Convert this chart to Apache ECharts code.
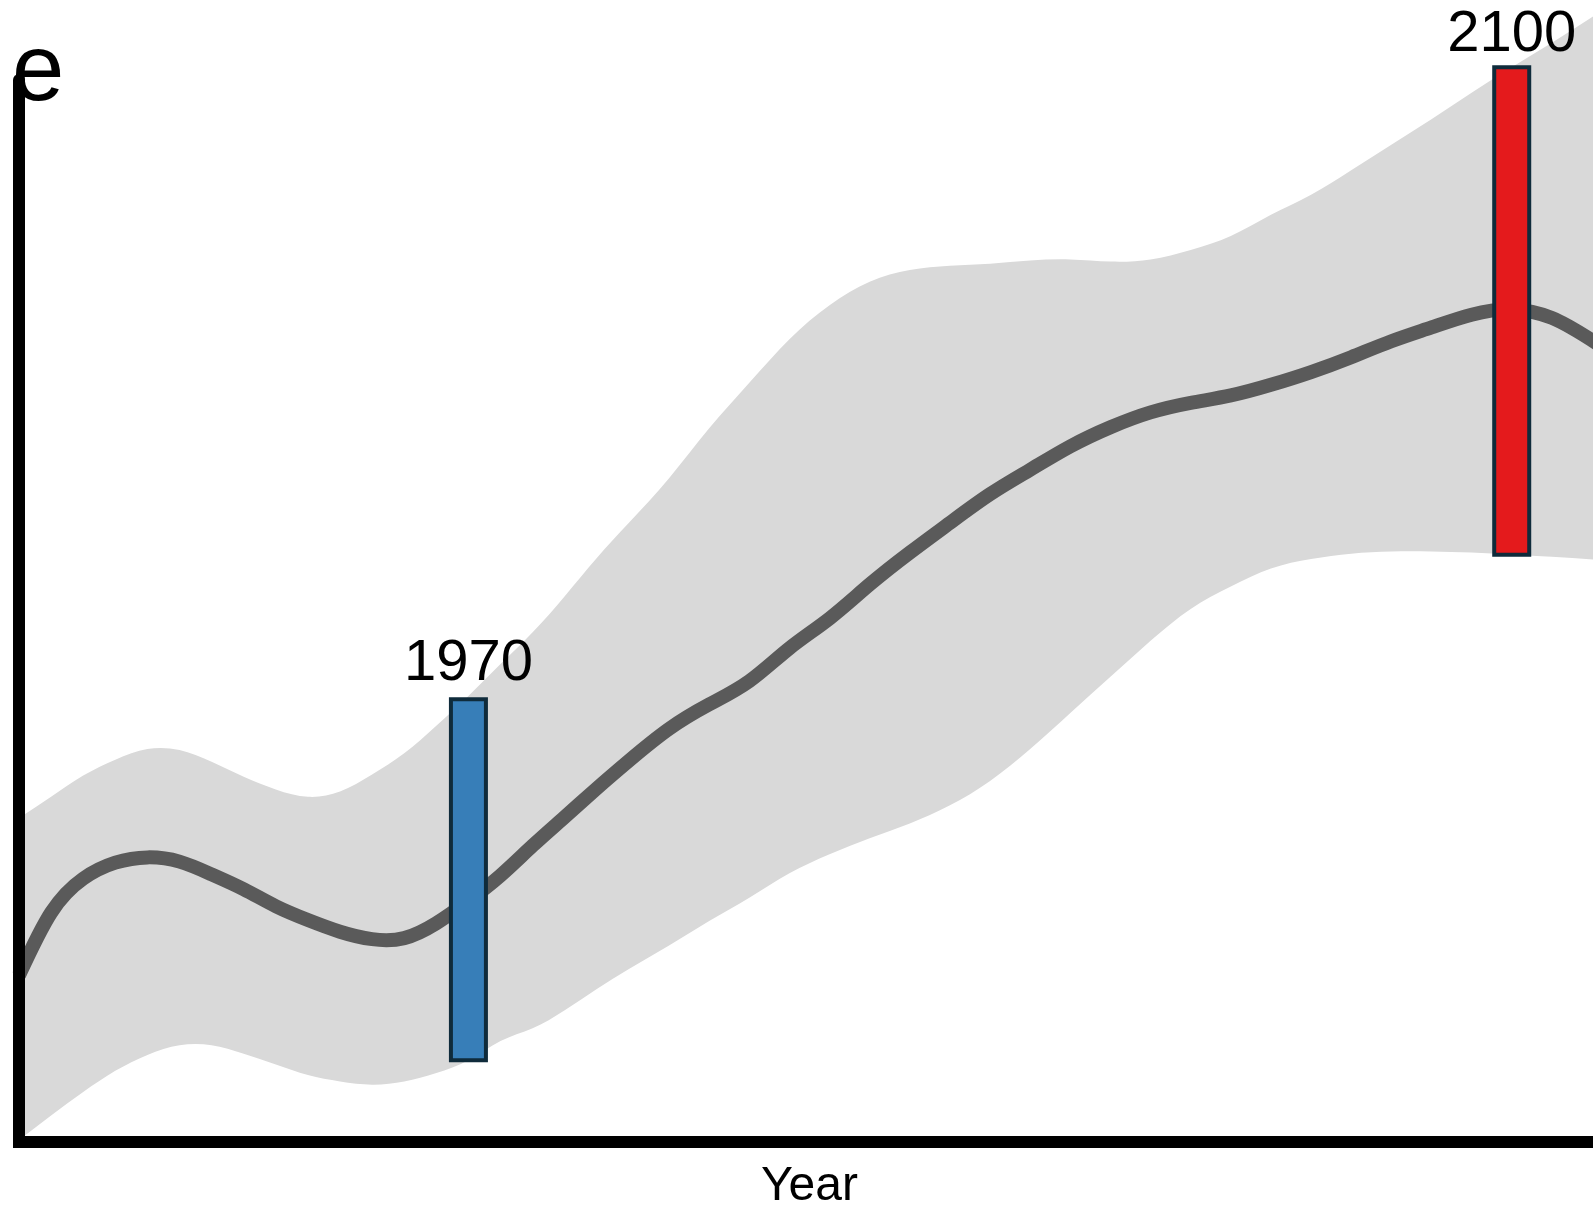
<!DOCTYPE html>
<html>
<head>
<meta charset="utf-8">
<title>Year</title>
<script src="https://cdn.jsdelivr.net/npm/echarts@6/dist/echarts.min.js"></script>
<style>
  html, body { margin: 0; padding: 0; background: #ffffff; }
  #chart { width: 1593px; height: 1205px; }
</style>
</head>
<body>
<div id="chart"></div>
<script>
// Sampled years for the projection envelope and its central estimate
const years = [1914, 1918, 1922, 1926, 1930, 1934, 1938, 1942, 1946, 1950,
               1954, 1958, 1962, 1966, 1970, 1974, 1978, 1982, 1986, 1990,
               1995, 2000, 2005, 2010, 2015, 2020, 2025, 2030, 2035, 2040,
               2045, 2050, 2055, 2060, 2065, 2070, 2075, 2080, 2085, 2090,
               2095, 2100, 2105, 2111];

// Upper edge of the envelope
const upper = [3.05, 3.25, 3.45, 3.60, 3.70, 3.69, 3.58, 3.44, 3.32, 3.25,
               3.30, 3.46, 3.66, 3.92, 4.20, 4.50, 4.80, 5.14, 5.50, 5.83,
               6.25, 6.72, 7.15, 7.56, 7.88, 8.10, 8.21, 8.25, 8.27, 8.30,
               8.31, 8.29, 8.31, 8.40, 8.53, 8.73, 8.92, 9.15, 9.39, 9.63,
               9.88, 10.12, 10.35, 10.64];

// Lower edge of the envelope
const lower = [0.02, 0.25, 0.47, 0.67, 0.82, 0.91, 0.91, 0.83, 0.73, 0.63,
               0.57, 0.54, 0.57, 0.65, 0.77, 0.95, 1.07, 1.24, 1.44, 1.63,
               1.85, 2.08, 2.30, 2.53, 2.71, 2.86, 3.00, 3.17, 3.40, 3.70,
               4.04, 4.38, 4.72, 5.02, 5.23, 5.40, 5.49, 5.54, 5.56, 5.56,
               5.55, 5.53, 5.51, 5.48];

// Central estimate
const mean = [1.57, 2.16, 2.48, 2.63, 2.68, 2.64, 2.52, 2.38, 2.22, 2.09,
              1.98, 1.91, 1.92, 2.06, 2.27, 2.51, 2.79, 3.06, 3.33, 3.59,
              3.89, 4.12, 4.34, 4.65, 4.93, 5.25, 5.55, 5.83, 6.10, 6.33,
              6.55, 6.73, 6.87, 6.96, 7.03, 7.13, 7.25, 7.39, 7.54, 7.67,
              7.79, 7.84, 7.76, 7.50];

// Highlighted years: range bars spanning the envelope
const markYears = [1970, 2100];
const markLow = [0.77, 5.53];
const markHigh = [4.17, 10.12];

const FONT = '"Liberation Sans", Arial, sans-serif';
const markFill = ['#377eb8', '#e41a1c'];
const labelGap = [4, 1];

// Natural cubic spline through pixel points (x increasing), returned as
// one cubic Bezier segment per interval: [[c1x, c1y, c2x, c2y, x, y], ...]
function splineSegments(pts) {
  const n = pts.length;
  const h = [], M = new Array(n).fill(0);
  for (let i = 0; i < n - 1; i++) h.push(pts[i + 1][0] - pts[i][0]);
  if (n > 2) {
    const a = [], b = [], c = [], d = [];
    for (let i = 1; i < n - 1; i++) {
      a.push(h[i - 1]);
      b.push(2 * (h[i - 1] + h[i]));
      c.push(h[i]);
      d.push(6 * ((pts[i + 1][1] - pts[i][1]) / h[i] - (pts[i][1] - pts[i - 1][1]) / h[i - 1]));
    }
    const m = b.length;
    for (let i = 1; i < m; i++) {
      const w = a[i] / b[i - 1];
      b[i] -= w * c[i - 1];
      d[i] -= w * d[i - 1];
    }
    const sol = new Array(m);
    sol[m - 1] = d[m - 1] / b[m - 1];
    for (let i = m - 2; i >= 0; i--) sol[i] = (d[i] - c[i] * sol[i + 1]) / b[i];
    for (let i = 0; i < m; i++) M[i + 1] = sol[i];
  }
  const segs = [];
  for (let i = 0; i < n - 1; i++) {
    const hi = h[i];
    const slope = (pts[i + 1][1] - pts[i][1]) / hi;
    const s0 = slope - hi * (2 * M[i] + M[i + 1]) / 6;
    const s1 = slope + hi * (M[i] + 2 * M[i + 1]) / 6;
    segs.push([pts[i][0] + hi / 3, pts[i][1] + s0 * hi / 3,
               pts[i + 1][0] - hi / 3, pts[i + 1][1] - s1 * hi / 3,
               pts[i + 1][0], pts[i + 1][1]]);
  }
  return segs;
}

function forwardPath(pts, segs) {
  let d = 'M' + pts[0][0] + ',' + pts[0][1];
  segs.forEach(s => { d += 'C' + s.join(','); });
  return d;
}

function backwardPath(pts, segs) {
  let d = '';
  for (let i = segs.length - 1; i >= 0; i--) {
    const s = segs[i];
    d += 'C' + [s[2], s[3], s[0], s[1], pts[i][0], pts[i][1]].join(',');
  }
  return d;
}

const chart = echarts.init(document.getElementById('chart'), null, { renderer: 'canvas' });

const bandData = years.map((y, i) => [y, lower[i], upper[i]]);
const meanData = years.map((y, i) => [y, mean[i]]);
const marks = markYears.map((y, i) => [y, markLow[i], markHigh[i]]);

chart.setOption({
  animation: false,
  backgroundColor: '#ffffff',
  grid: {
    left: 19, right: -7, top: 80, bottom: 63,
    containLabel: false,
    outerBoundsMode: 'none'
  },
  xAxis: {
    type: 'value',
    min: 1914, max: 2111,
    z: 5,
    name: 'Year',
    nameLocation: 'middle',
    nameGap: 21,
    nameTextStyle: { fontSize: 48, fontFamily: FONT, color: '#000000', verticalAlign: 'top' },
    axisLine: { show: true, onZero: false, lineStyle: { color: '#000000', width: 12, cap: 'square' } },
    axisTick: { show: false },
    axisLabel: { show: false },
    splitLine: { show: false }
  },
  yAxis: {
    type: 'value',
    min: 0, max: 10,
    z: 5,
    axisLine: { show: true, onZero: false, lineStyle: { color: '#000000', width: 12 } },
    axisTick: { show: false },
    axisLabel: { show: false },
    splitLine: { show: false }
  },
  graphic: [{
    type: 'text',
    z: 100,
    left: 12,
    top: 27,
    style: { text: 'e', fontSize: 94, fontFamily: FONT, fill: '#000000' }
  }],
  series: [
    {
      // shaded envelope between the lower and upper edges
      name: 'envelope',
      type: 'custom',
      data: bandData,
      clip: false,
      silent: true,
      z: 1,
      renderItem: function (params, api) {
        if (params.dataIndex !== 0) return null;
        const n = years.length;
        const up = [], lo = [];
        for (let k = 0; k < n; k++) {
          up.push(api.coord([api.value(0, k), api.value(2, k)]));
          lo.push(api.coord([api.value(0, k), api.value(1, k)]));
        }
        const upSegs = splineSegments(up);
        const loSegs = splineSegments(lo);
        const d = forwardPath(up, upSegs) +
                  'L' + lo[n - 1][0] + ',' + lo[n - 1][1] +
                  backwardPath(lo, loSegs) + 'Z';
        return { type: 'path', shape: { pathData: d }, style: { fill: '#d9d9d9', stroke: null } };
      }
    },
    {
      // central estimate
      name: 'mean',
      type: 'custom',
      data: meanData,
      clip: false,
      silent: true,
      z: 2,
      renderItem: function (params, api) {
        if (params.dataIndex !== 0) return null;
        const pts = [];
        for (let k = 0; k < years.length; k++) {
          pts.push(api.coord([api.value(0, k), api.value(1, k)]));
        }
        const d = forwardPath(pts, splineSegments(pts));
        return {
          type: 'path',
          shape: { pathData: d },
          style: { fill: 'none', stroke: '#5a5a5a', lineWidth: 14, lineJoin: 'round' }
        };
      }
    },
    {
      name: 'range',
      type: 'custom',
      data: marks,
      clip: false,
      z: 3,
      renderItem: function (params, api) {
        const x = api.value(0);
        const top = api.coord([x, api.value(2)]);
        const bottom = api.coord([x, api.value(1)]);
        const w = 35;
        return {
          type: 'rect',
          shape: { x: top[0] - w / 2, y: top[1], width: w, height: bottom[1] - top[1] },
          style: { fill: markFill[params.dataIndex], stroke: '#0f2b3b', lineWidth: 4 },
          textContent: {
            style: { text: String(x), fontSize: 58, fontFamily: FONT, fill: '#000000' }
          },
          textConfig: { position: 'top', distance: labelGap[params.dataIndex] }
        };
      }
    }
  ]
});
</script>
</body>
</html>
